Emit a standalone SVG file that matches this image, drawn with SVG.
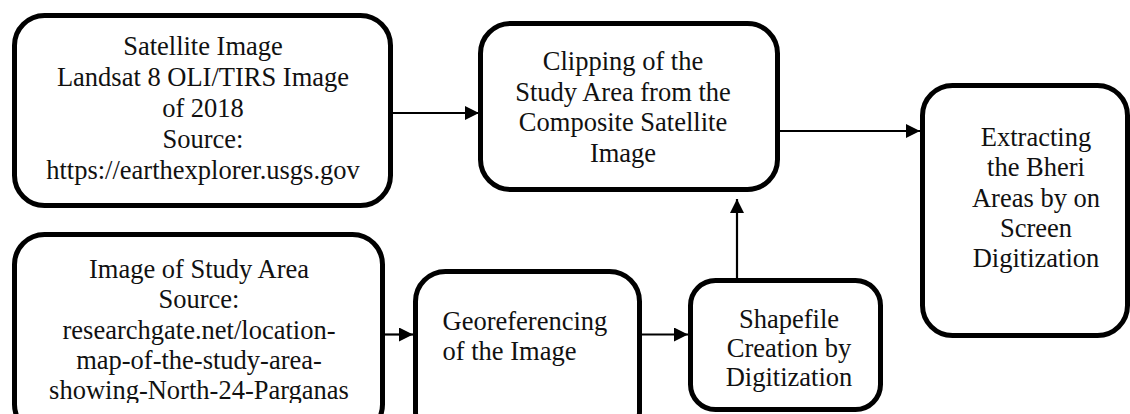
<svg xmlns="http://www.w3.org/2000/svg" width="1130" height="414" viewBox="0 0 1130 414">
<style>
.box{fill:#fff;stroke:#000;stroke-width:5}
.t{font-size:26.5px;fill:#111}
.c{text-anchor:middle}
.ln{stroke:#000;stroke-width:2.2;fill:none}
</style>
<defs>
<marker id="ah" markerUnits="userSpaceOnUse" markerWidth="15" markerHeight="15" refX="14" refY="7" orient="auto">
<path d="M0,0 L14,7 L0,14 Z" fill="#000"/>
</marker>
<clipPath id="clipB"><rect x="0" y="0" width="1130" height="403"/></clipPath>
</defs>
<rect width="1130" height="414" fill="#fff"/>
<g id="connectors">
<line class="ln" x1="393" y1="113" x2="479" y2="113" marker-end="url(#ah)"/>
<line class="ln" x1="780" y1="131" x2="920" y2="131" marker-end="url(#ah)"/>
<line class="ln" x1="385" y1="334.5" x2="413" y2="334.5" marker-end="url(#ah)"/>
<line class="ln" x1="642" y1="334.5" x2="688" y2="334.5" marker-end="url(#ah)"/>
<line class="ln" x1="737" y1="279" x2="737" y2="199" marker-end="url(#ah)"/>
</g>
<g font-family="'Liberation Serif', serif">
<g id="satellite">
<rect class="box" x="14.5" y="15.5" width="376" height="190" rx="30"/>
<text class="t c" x="203" y="55">Satellite Image</text>
<text class="t c" x="203" y="86">Landsat 8 OLI/TIRS Image</text>
<text class="t c" x="203" y="117">of 2018</text>
<text class="t c" x="203" y="148">Source:</text>
<text class="t c" x="203" y="179">https://earthexplorer.usgs.gov</text>
</g>
<g id="studyarea">
<rect class="box" x="14.5" y="234.5" width="368" height="200" rx="30"/>
<g clip-path="url(#clipB)">
<text class="t c" x="199" y="278">Image of Study Area</text>
<text class="t c" x="199" y="308">Source:</text>
<text class="t c" x="199" y="339">researchgate.net/location-</text>
<text class="t c" x="199" y="369">map-of-the-study-area-</text>
<text class="t c" x="199" y="399">showing-North-24-Parganas</text>
</g>
</g>
<g id="clipping">
<rect class="box" x="480.5" y="23.5" width="297" height="166" rx="30"/>
<text class="t c" x="623" y="70">Clipping of the</text>
<text class="t c" x="623" y="100.5">Study Area from the</text>
<text class="t c" x="623" y="131">Composite Satellite</text>
<text class="t c" x="623" y="161.5">Image</text>
</g>
<g id="georef">
<rect class="box" x="415.5" y="271.5" width="224" height="170" rx="30"/>
<text class="t" x="442.5" y="330">Georeferencing</text>
<text class="t" x="442.5" y="360">of the Image</text>
</g>
<g id="shapefile">
<rect class="box" x="690.5" y="280.5" width="190" height="129" rx="25"/>
<text class="t c" x="789" y="328">Shapefile</text>
<text class="t c" x="789" y="357">Creation by</text>
<text class="t c" x="789" y="386">Digitization</text>
</g>
<g id="extracting">
<rect class="box" x="922.5" y="85.5" width="205" height="250" rx="30"/>
<text class="t c" x="1036" y="146">Extracting</text>
<text class="t c" x="1036" y="176">the Bheri</text>
<text class="t c" x="1036" y="207">Areas by on</text>
<text class="t c" x="1036" y="237">Screen</text>
<text class="t c" x="1036" y="267">Digitization</text>
</g>
</g>
</svg>
